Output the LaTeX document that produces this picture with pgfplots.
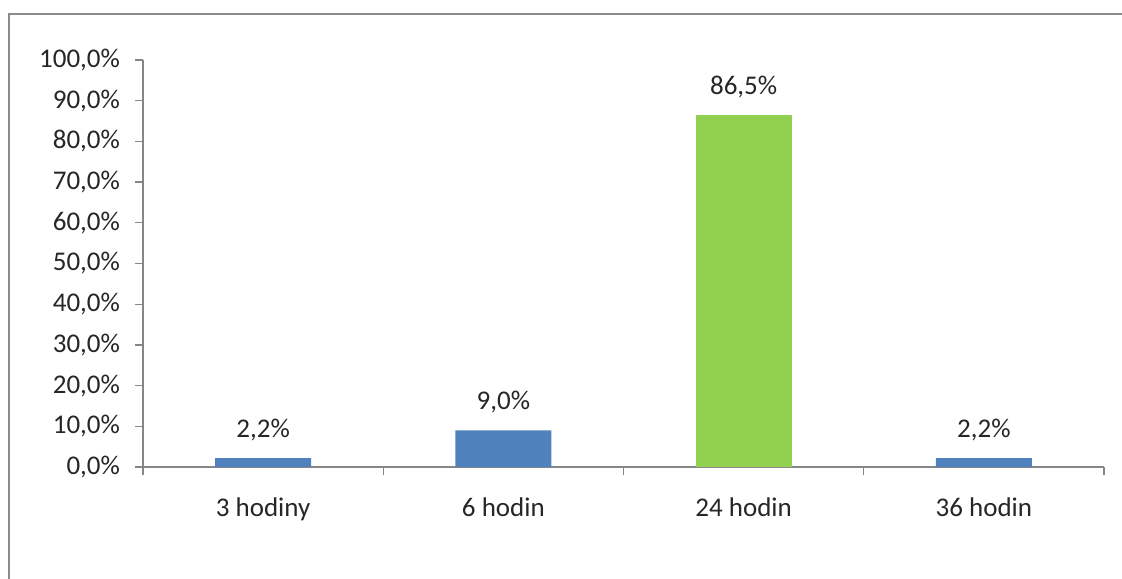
\documentclass[border=0pt]{standalone}
\usepackage{pgfplots}
\pgfplotsset{compat=1.18}
\usepackage{fontspec}
\setmainfont{Carlito}
\definecolor{barblue}{HTML}{4F81BD}
\definecolor{bargreen}{HTML}{92D050}
\definecolor{axgray}{HTML}{868686}
\definecolor{framegray}{HTML}{8C8C8C}
\begin{document}
\begin{tikzpicture}[x=0.5pt,y=0.5pt]
\clip (0,0) rectangle (1122,578);
\path[use as bounding box] (0,0) rectangle (1122,578);
\draw[framegray,line width=1.2pt] (9,-20) -- (9,564) -- (1140,564);
\coordinate (O) at (143,111);
\begin{axis}[
  at={(O)}, anchor=south west,
  scale only axis,
  width=480.5pt, height=203.5pt,
  xmin=-0.5, xmax=3.5, ymin=0, ymax=100,
  axis lines*=left,
  axis line style={axgray, line width=0.6pt},
  ytick={0,10,...,100},
  yticklabels={{0,0\%},{10,0\%},{20,0\%},{30,0\%},{40,0\%},{50,0\%},{60,0\%},{70,0\%},{80,0\%},{90,0\%},{100,0\%}},
  xtick={0,1,2,3},
  xticklabels={3 hodiny,6 hodin,24 hodin,36 hodin},
  minor xtick={-0.5,0.5,1.5,2.5,3.5},
  tick align=outside,
  major tick length=4pt,
  minor tick length=4pt,
  x tick style={draw=none},
  minor x tick style={draw=axgray, line width=0.6pt},
  y tick style={draw=axgray, line width=0.6pt},
  tick label style={font=\fontsize{13.5}{16}\selectfont, text=black!85},
  yticklabel style={xshift=-4pt},
  xticklabel style={yshift=-8pt},
  ybar, bar width=0.4, bar shift=0pt,
  nodes near coords,
  point meta=explicit symbolic,
  every node near coord/.append style={font=\fontsize{13.5}{16}\selectfont, text=black!85, anchor=south, yshift=5pt},
  clip=false,
]
\addplot[fill=barblue, draw=none] coordinates {(0,2.2) [2,2\%] (1,9.0) [9,0\%] (3,2.2) [2,2\%]};
\addplot[fill=bargreen, draw=none] coordinates {(2,86.5) [86,5\%]};
\end{axis}
\end{tikzpicture}
\end{document}
